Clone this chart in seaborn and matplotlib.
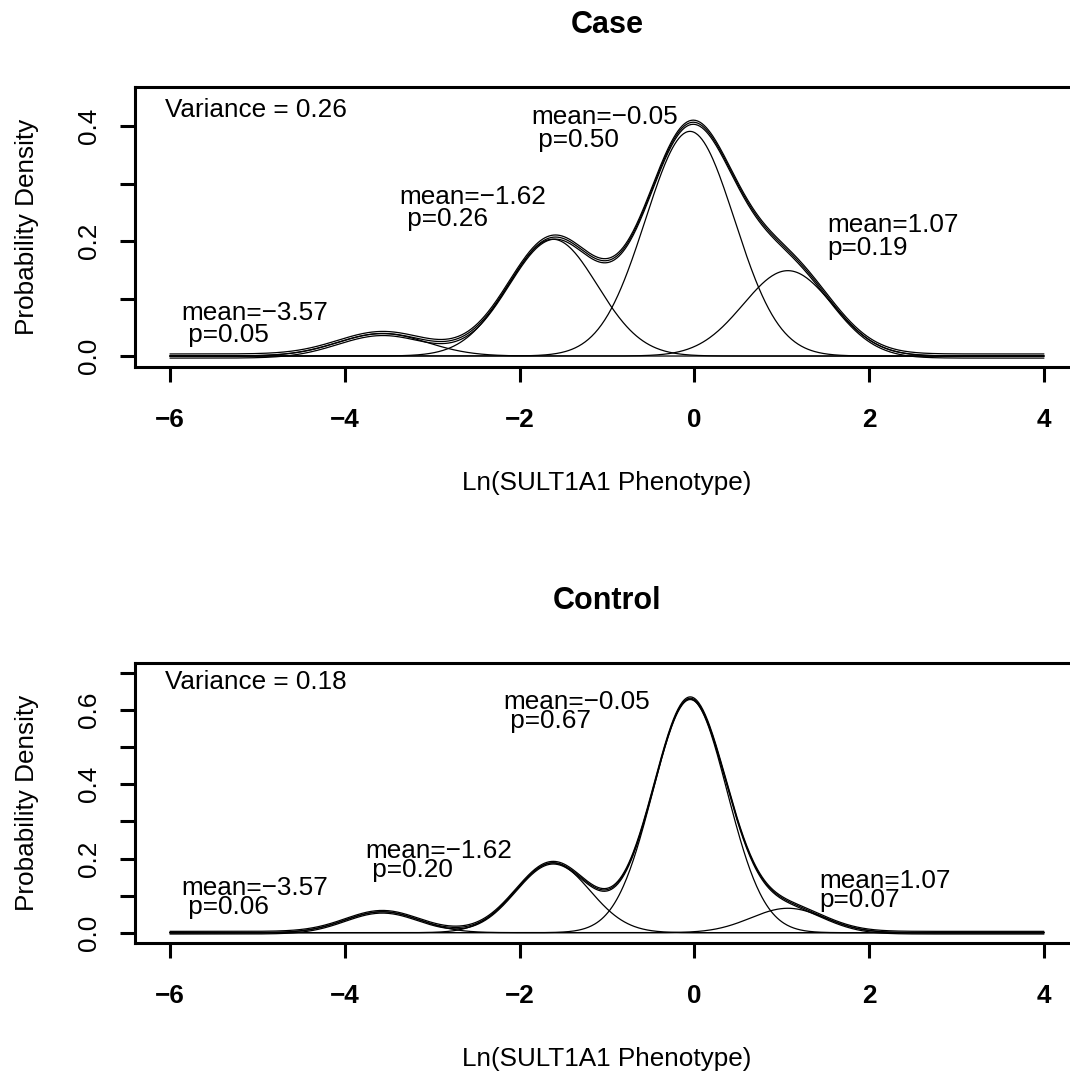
import numpy as np
import pandas as pd
import seaborn as sns
import matplotlib.pyplot as plt

# mixture components (common variance per panel)
means = [-3.57, -1.62, -0.05, 1.07]
case_p = [0.05, 0.26, 0.50, 0.19]
control_p = [0.06, 0.20, 0.67, 0.07]
case_var = 0.26
control_var = 0.18
# the summed density is drawn three times, slightly shifted
band_offsets = [-0.0036, 0.0, 0.0036]

x_ticks = [-6, -4, -2, 0, 2, 4]
x_ticklabels = ["\u22126", "\u22124", "\u22122", "0", "2", "4"]
case_yticks = [0.0, 0.1, 0.2, 0.3, 0.4]
case_yticklabels = ["0.0", "", "0.2", "", "0.4"]
control_yticks = [0.0, 0.1, 0.2, 0.3, 0.4, 0.5, 0.6, 0.7]
control_yticklabels = ["0.0", "", "0.2", "", "0.4", "", "0.6", ""]

mean_labels = ["mean=\u22123.57", "mean=\u22121.62", "mean=\u22120.05", "mean=1.07"]
case_plabels = [" p=0.05", " p=0.26", " p=0.50", "p=0.19"]
control_plabels = [" p=0.06", " p=0.20", " p=0.67", "p=0.07"]

# label placement (data coords: left x, baseline y of the "mean" line)
case_lab_x = [-5.87, -3.37, -1.87, 1.52]
case_lab_y = [0.0632, 0.2653, 0.4033, 0.2162]
case_gap = 0.0396
control_lab_x = [-5.87, -3.77, -2.19, 1.43]
control_lab_y = [0.1016, 0.2005, 0.604, 0.1216]
control_gap = 0.0512


def mixture(x, p, var):
    comps = []
    for m, w in zip(means, p):
        comps.append(w / np.sqrt(2 * np.pi * var) * np.exp(-(x - m) ** 2 / (2 * var)))
    return comps


sns.set_style("white")
plt.rcParams['font.family'] = ['Liberation Sans', 'DejaVu Sans']
plt.rcParams['font.size'] = 18.8
plt.rcParams['text.color'] = 'black'
plt.rcParams['axes.labelcolor'] = 'black'

fig = plt.figure(figsize=(10.70, 10.73), dpi=100)
W, H = 1070.0, 1073.0

xs = np.linspace(-6, 4, 801)

panels = [
    ("Case", case_p, case_var, 366.7, (-0.0186, 0.469), case_yticks, case_yticklabels,
     case_plabels, case_lab_x, case_lab_y, case_gap, 0.4157),
    ("Control", control_p, control_var, 942.7, (-0.027, 0.728), control_yticks, control_yticklabels,
     control_plabels, control_lab_x, control_lab_y, control_gap, 0.656),
]

for (title, p, var, bottom_px, ylim, yt, ytl, plabs, lx, ly, gap, var_y) in panels:
    ax = fig.add_axes([135 / W, (H - bottom_px) / H, 943.9 / W, 280 / H])
    comps = mixture(xs, p, var)
    total = np.sum(comps, axis=0)
    rows = []
    for i, c in enumerate(comps):
        rows.append(pd.DataFrame({"x": xs, "y": c, "curve": "comp%d" % i}))
    for k, off in enumerate(band_offsets):
        rows.append(pd.DataFrame({"x": xs, "y": total + off, "curve": "total%d" % k}))
    df = pd.concat(rows, ignore_index=True)
    sns.lineplot(data=df, x="x", y="y", units="curve", estimator=None,
                 color="black", lw=0.9, ax=ax, sort=False)

    ax.set_xlim(-6.4, 4.4)
    ax.set_ylim(*ylim)
    ax.set_xticks(x_ticks)
    ax.set_xticklabels(x_ticklabels, fontweight="bold")
    ax.set_yticks(yt)
    ax.set_yticklabels(ytl, rotation=90, va="center")
    ax.tick_params(axis="both", direction="out", length=10.8, width=2.2, color="black",
                   labelsize=18.8, labelcolor="black", bottom=True, left=True)
    ax.tick_params(axis="x", pad=19)
    ax.tick_params(axis="y", pad=13.5)
    for s in ax.spines.values():
        s.set_visible(True)
        s.set_linewidth(2.2)
        s.set_color("black")

    ax.set_title(title, fontsize=22, fontweight="bold", pad=38.7, color="black")
    ax.set_xlabel("Ln(SULT1A1 Phenotype)", fontsize=18.8)
    ax.xaxis.label.set_va("baseline")
    ax.xaxis.set_label_coords(0.5, -0.44)
    ax.set_ylabel("Probability Density", fontsize=18.8)
    ax.yaxis.set_label_coords(-0.1015, 0.5)

    ax.text(-6.057, var_y, "Variance = %.2f" % var, ha="left", va="baseline", fontsize=18.8)
    for i in range(len(means)):
        ax.text(lx[i], ly[i], mean_labels[i], ha="left", va="baseline", fontsize=18.8)
        ax.text(lx[i], ly[i] - gap, plabs[i], ha="left", va="baseline", fontsize=18.8)

fig.savefig("out.png", dpi=100)
